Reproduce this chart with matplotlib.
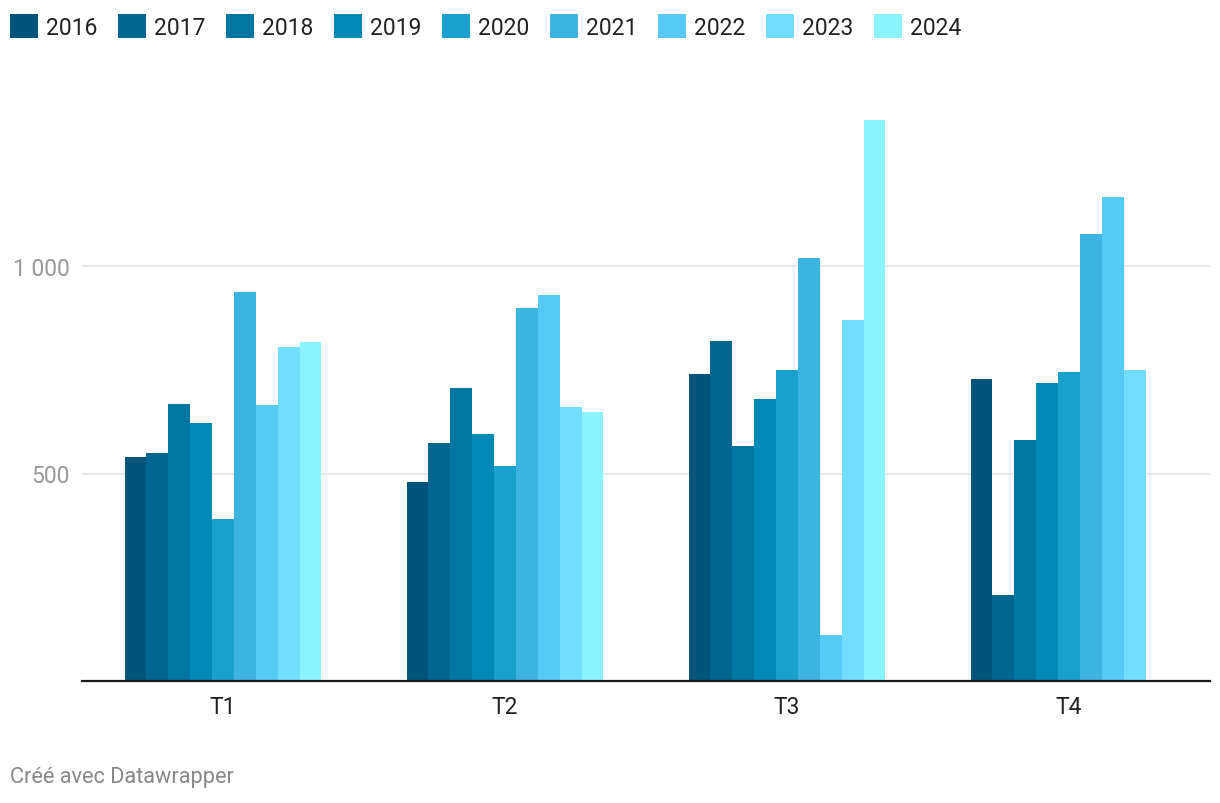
import numpy as np
import matplotlib.pyplot as plt

plt.rcParams['font.family'] = ['Roboto', 'DejaVu Sans']

# quarters and years
quarters = ['T1', 'T2', 'T3', 'T4']
years = ['2016', '2017', '2018', '2019', '2020', '2021', '2022', '2023', '2024']

# values per year, one entry per quarter (T4 2024 missing)
v2016 = [540, 480, 739, 728]
v2017 = [550, 574, 819, 207]
v2018 = [668, 707, 566, 581]
v2019 = [622, 596, 680, 718]
v2020 = [391, 519, 750, 745]
v2021 = [938, 900, 1020, 1078]
v2022 = [666, 931, 110, 1167]
v2023 = [806, 661, 870, 750]
v2024 = [818, 647, 1351, np.nan]

series = [v2016, v2017, v2018, v2019, v2020, v2021, v2022, v2023, v2024]

colors = ['#01557b', '#00668f', '#0077a3', '#0089b7', '#1aa0cd',
          '#3db3e1', '#57c9f6', '#71ddff', '#8af4fe']

fig = plt.figure(figsize=(12.2, 8.04), dpi=100)
ax = fig.add_axes([82 / 1220, 122 / 804, 1128 / 1220, (682 - 101) / 804])

x = np.arange(len(quarters))
bw = 0.0776
n = len(series)
for i, vals in enumerate(series):
    ax.bar(x + (i - (n - 1) / 2) * bw, vals, width=bw, color=colors[i],
           label=years[i], linewidth=0, zorder=3)

ax.set_xlim(-0.5, 3.5)
ax.set_ylim(0, 1400)
ax.set_yticks([500, 1000])
ax.set_yticklabels(['500', '1 000'])
ax.set_xticks(x)
ax.set_xticklabels(quarters)
ax.tick_params(axis='y', length=0, pad=9, labelsize=16.5, labelcolor='#999999')
ax.tick_params(axis='x', length=0, pad=10, labelsize=16.5, labelcolor='#222222')
ax.grid(axis='y', color='#e3e3e3', linewidth=1.2, zorder=0)

for s in ['top', 'right', 'left']:
    ax.spines[s].set_visible(False)
ax.spines['bottom'].set_color('#1a1a1a')
ax.spines['bottom'].set_linewidth(1.6)
ax.spines['bottom'].set_zorder(4)

fig.legend(loc='upper left', bbox_to_anchor=(10 / 1220, 1 - 15 / 804), ncol=9,
           frameon=False, fontsize=16.5, handlelength=1.22, handleheight=1.22,
           handletextpad=0.35, columnspacing=0.9, borderpad=0, borderaxespad=0,
           labelcolor='#222222')

fig.text(10 / 1220, 1 - 778 / 804, 'Créé avec Datawrapper', fontsize=15.7,
         color='#888888', va='center', ha='left')

fig.savefig('out.png', dpi=100)
